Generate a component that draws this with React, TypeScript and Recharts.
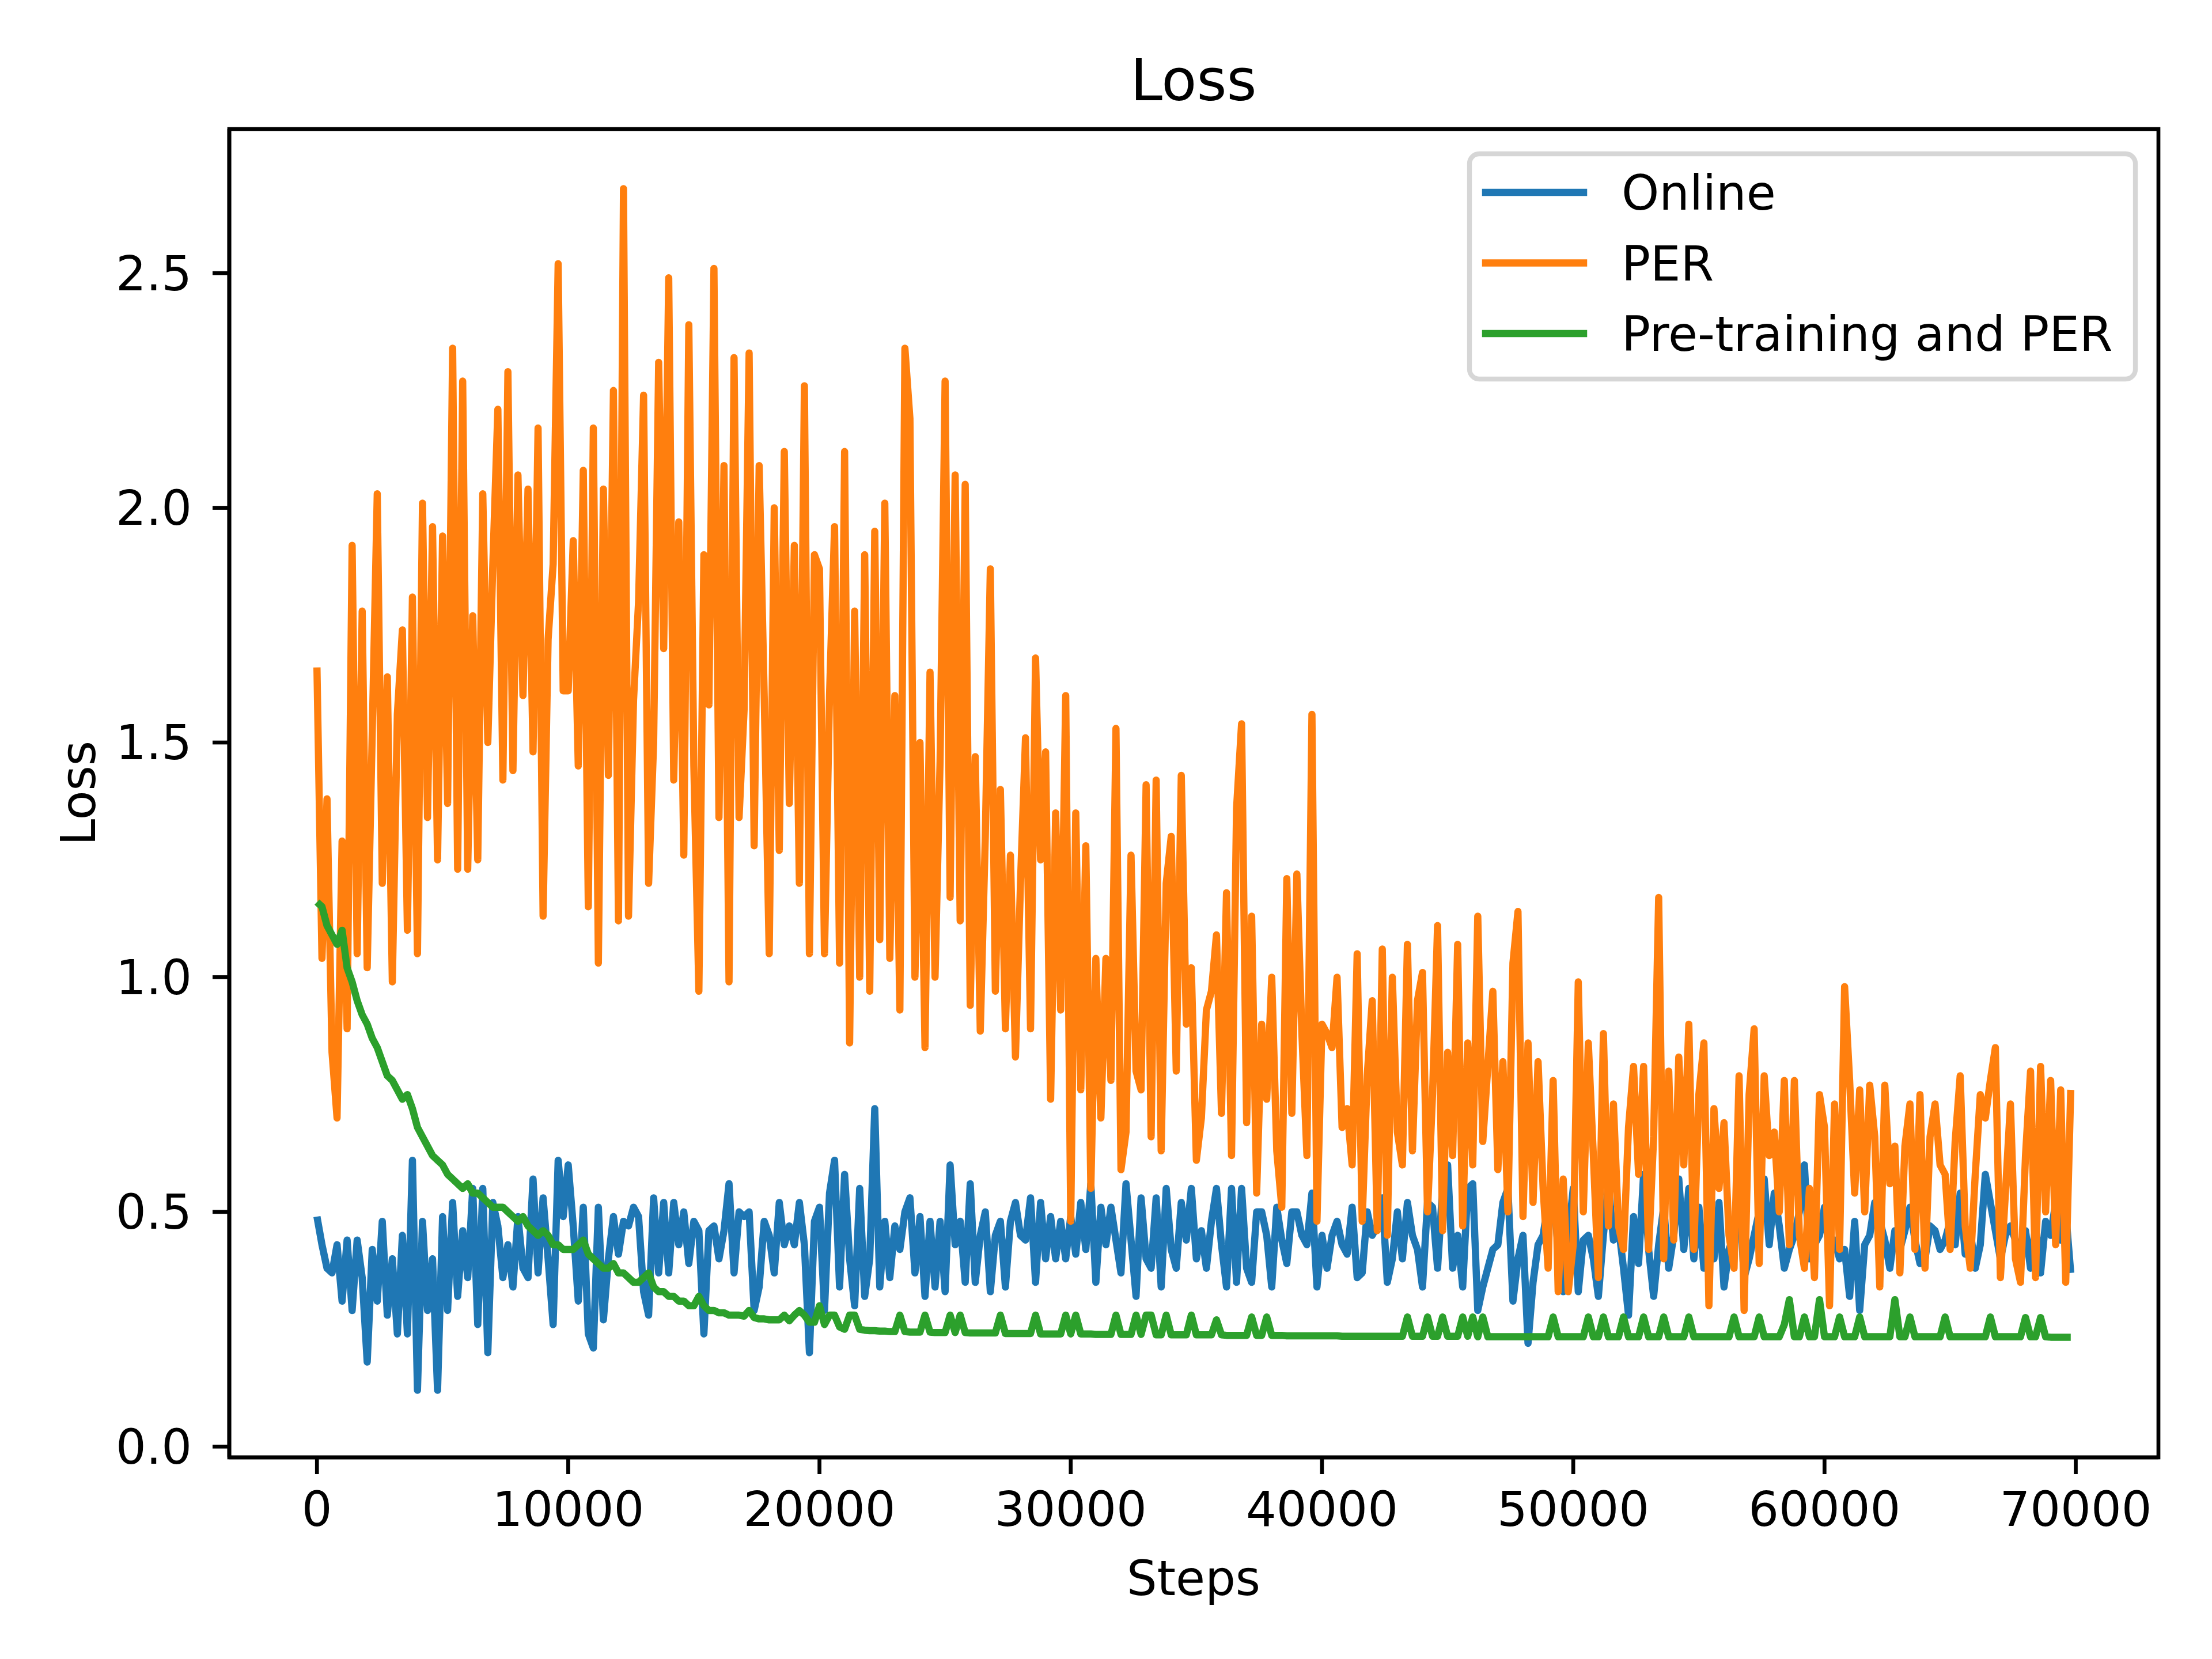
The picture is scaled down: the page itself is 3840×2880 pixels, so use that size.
import React from "react";
import { LineChart, Line, XAxis, YAxis } from "recharts";

// loss per logged step (one value every 200 steps, 0 .. 69800)
const ONLINE = [
    0.49, 0.43, 0.38, 0.37, 0.43, 0.31, 0.44, 0.29, 0.44, 0.36,
    0.18, 0.42, 0.31, 0.48, 0.28, 0.40, 0.24, 0.45, 0.24, 0.61,
    0.12, 0.48, 0.29, 0.40, 0.12, 0.49, 0.29, 0.52, 0.32, 0.46,
    0.36, 0.55, 0.26, 0.55, 0.20, 0.52, 0.47, 0.36, 0.43, 0.34,
    0.49, 0.38, 0.36, 0.57, 0.37, 0.53, 0.40, 0.26, 0.61, 0.49,
    0.60, 0.47, 0.31, 0.51, 0.24, 0.21, 0.51, 0.27, 0.40, 0.49,
    0.41, 0.48, 0.47, 0.51, 0.49, 0.33, 0.28, 0.53, 0.37, 0.52,
    0.37, 0.52, 0.43, 0.50, 0.39, 0.48, 0.46, 0.24, 0.46, 0.47,
    0.40, 0.46, 0.56, 0.37, 0.50, 0.49, 0.50, 0.29, 0.34, 0.48,
    0.45, 0.37, 0.52, 0.43, 0.47, 0.43, 0.52, 0.43, 0.20, 0.48,
    0.51, 0.29, 0.54, 0.61, 0.34, 0.58, 0.40, 0.30, 0.55, 0.32,
    0.40, 0.72, 0.34, 0.48, 0.36, 0.47, 0.42, 0.50, 0.53, 0.37,
    0.49, 0.32, 0.48, 0.34, 0.48, 0.33, 0.60, 0.43, 0.48, 0.35,
    0.56, 0.35, 0.45, 0.50, 0.33, 0.45, 0.48, 0.34, 0.48, 0.52,
    0.45, 0.44, 0.53, 0.35, 0.52, 0.40, 0.49, 0.40, 0.48, 0.40,
    0.49, 0.41, 0.52, 0.42, 0.56, 0.35, 0.51, 0.43, 0.51, 0.44,
    0.37, 0.56, 0.44, 0.32, 0.53, 0.40, 0.38, 0.53, 0.34, 0.55,
    0.42, 0.38, 0.52, 0.44, 0.55, 0.40, 0.46, 0.38, 0.48, 0.55,
    0.43, 0.34, 0.55, 0.35, 0.55, 0.38, 0.35, 0.50, 0.50, 0.45,
    0.34, 0.51, 0.44, 0.39, 0.50, 0.50, 0.45, 0.43, 0.54, 0.34,
    0.45, 0.38, 0.45, 0.48, 0.43, 0.41, 0.51, 0.36, 0.37, 0.50,
    0.45, 0.47, 0.53, 0.35, 0.40, 0.50, 0.40, 0.52, 0.45, 0.42,
    0.34, 0.52, 0.51, 0.38, 0.55, 0.60, 0.38, 0.45, 0.34, 0.55,
    0.56, 0.29, 0.34, 0.38, 0.42, 0.43, 0.52, 0.55, 0.31, 0.40,
    0.45, 0.22, 0.35, 0.43, 0.45, 0.52, 0.55, 0.42, 0.33, 0.45,
    0.55, 0.33, 0.44, 0.45, 0.40, 0.32, 0.45, 0.56, 0.44, 0.47,
    0.38, 0.28, 0.49, 0.39, 0.58, 0.42, 0.32, 0.43, 0.51, 0.38,
    0.45, 0.57, 0.42, 0.55, 0.40, 0.51, 0.38, 0.42, 0.40, 0.52,
    0.34, 0.42, 0.45, 0.55, 0.36, 0.40, 0.45, 0.50, 0.57, 0.43,
    0.54, 0.47, 0.38, 0.42, 0.45, 0.50, 0.60, 0.40, 0.43, 0.45,
    0.51, 0.41, 0.44, 0.40, 0.42, 0.32, 0.48, 0.29, 0.43, 0.45,
    0.52, 0.48, 0.44, 0.38, 0.46, 0.42, 0.46, 0.51, 0.44, 0.39,
    0.40, 0.47, 0.46, 0.42, 0.44, 0.48, 0.43, 0.54, 0.41, 0.46,
    0.38, 0.43, 0.58, 0.52, 0.46, 0.40, 0.45, 0.47, 0.44, 0.42,
    0.46, 0.38, 0.47, 0.37, 0.48, 0.45, 0.52, 0.44, 0.50, 0.37,
];

const PER = [
    1.66, 1.04, 1.38, 0.84, 0.70, 1.29, 0.89, 1.92, 1.05, 1.78,
    1.02, 1.52, 2.03, 1.20, 1.64, 0.99, 1.56, 1.74, 1.10, 1.81,
    1.05, 2.01, 1.34, 1.96, 1.25, 1.94, 1.37, 2.34, 1.23, 2.27,
    1.23, 1.77, 1.25, 2.03, 1.50, 1.88, 2.21, 1.42, 2.29, 1.44,
    2.07, 1.60, 2.04, 1.48, 2.17, 1.13, 1.72, 1.88, 2.52, 1.61,
    1.61, 1.93, 1.45, 2.08, 1.15, 2.17, 1.03, 2.04, 1.43, 2.25,
    1.12, 2.68, 1.13, 1.59, 1.80, 2.24, 1.20, 1.50, 2.31, 1.70,
    2.49, 1.42, 1.97, 1.26, 2.39, 1.45, 0.97, 1.90, 1.58, 2.51,
    1.34, 2.09, 0.99, 2.32, 1.34, 1.57, 2.33, 1.28, 2.09, 1.60,
    1.05, 2.00, 1.27, 2.12, 1.37, 1.92, 1.20, 2.26, 1.05, 1.90,
    1.87, 1.05, 1.60, 1.96, 1.03, 2.12, 0.86, 1.78, 1.00, 1.90,
    0.97, 1.95, 1.08, 2.01, 1.04, 1.60, 0.93, 2.34, 2.19, 1.00,
    1.50, 0.85, 1.65, 1.00, 1.46, 2.27, 1.17, 2.07, 1.12, 2.05,
    0.94, 1.47, 0.885, 1.30, 1.87, 0.97, 1.40, 0.89, 1.26, 0.83,
    1.20, 1.51, 0.89, 1.68, 1.25, 1.48, 0.74, 1.35, 0.93, 1.60,
    0.48, 1.35, 0.76, 1.28, 0.55, 1.04, 0.70, 1.04, 0.78, 1.53,
    0.59, 0.67, 1.26, 0.80, 0.76, 1.41, 0.66, 1.42, 0.63, 1.20,
    1.30, 0.80, 1.43, 0.90, 1.02, 0.61, 0.70, 0.93, 0.97, 1.09,
    0.71, 1.18, 0.62, 1.36, 1.54, 0.69, 1.13, 0.54, 0.90, 0.74,
    1.00, 0.63, 0.51, 1.21, 0.71, 1.22, 0.88, 0.62, 1.56, 0.48,
    0.90, 0.88, 0.85, 1.00, 0.68, 0.72, 0.60, 1.05, 0.48, 0.79,
    0.95, 0.46, 1.06, 0.45, 1.00, 0.67, 0.60, 1.07, 0.63, 0.95,
    1.01, 0.50, 0.75, 1.11, 0.46, 0.84, 0.62, 1.07, 0.47, 0.86,
    0.60, 1.13, 0.65, 0.81, 0.97, 0.59, 0.82, 0.50, 1.03, 1.14,
    0.49, 0.86, 0.52, 0.82, 0.55, 0.38, 0.78, 0.33, 0.57, 0.33,
    0.43, 0.99, 0.50, 0.86, 0.62, 0.36, 0.88, 0.47, 0.73, 0.47,
    0.42, 0.68, 0.81, 0.58, 0.81, 0.42, 0.66, 1.17, 0.40, 0.80,
    0.44, 0.83, 0.60, 0.90, 0.42, 0.75, 0.86, 0.30, 0.72, 0.55,
    0.69, 0.45, 0.38, 0.79, 0.29, 0.75, 0.89, 0.39, 0.79, 0.62,
    0.67, 0.50, 0.78, 0.43, 0.78, 0.45, 0.38, 0.55, 0.36, 0.75,
    0.68, 0.30, 0.73, 0.42, 0.98, 0.78, 0.54, 0.76, 0.50, 0.77,
    0.66, 0.34, 0.77, 0.56, 0.64, 0.37, 0.64, 0.73, 0.42, 0.75,
    0.38, 0.66, 0.73, 0.60, 0.58, 0.42, 0.65, 0.79, 0.47, 0.38,
    0.58, 0.75, 0.70, 0.78, 0.85, 0.36, 0.54, 0.73, 0.40, 0.35,
    0.62, 0.80, 0.36, 0.81, 0.50, 0.78, 0.43, 0.76, 0.35, 0.76,
];

const PRETRAIN_PER = [
    1.16, 1.15, 1.11, 1.09, 1.07, 1.10, 1.02, 0.99, 0.95, 0.92,
    0.90, 0.87, 0.85, 0.82, 0.79, 0.78, 0.76, 0.74, 0.75, 0.72,
    0.68, 0.66, 0.64, 0.62, 0.61, 0.60, 0.58, 0.57, 0.56, 0.55,
    0.56, 0.54, 0.54, 0.53, 0.52, 0.51, 0.51, 0.51, 0.50, 0.49,
    0.48, 0.49, 0.47, 0.46, 0.45, 0.46, 0.45, 0.43, 0.43, 0.42,
    0.42, 0.42, 0.43, 0.44, 0.41, 0.40, 0.39, 0.38, 0.38, 0.39,
    0.37, 0.37, 0.36, 0.35, 0.35, 0.36, 0.37, 0.34, 0.33, 0.33,
    0.32, 0.32, 0.31, 0.31, 0.30, 0.30, 0.32, 0.30, 0.29, 0.29,
    0.285, 0.285, 0.28, 0.28, 0.28, 0.278, 0.29, 0.275, 0.272, 0.272,
    0.27, 0.27, 0.27, 0.28, 0.268, 0.28, 0.29, 0.28, 0.265, 0.265,
    0.30, 0.26, 0.28, 0.28, 0.255, 0.25, 0.28, 0.28, 0.25, 0.248,
    0.247, 0.247, 0.246, 0.246, 0.245, 0.245, 0.28, 0.245, 0.244, 0.244,
    0.244, 0.28, 0.244, 0.243, 0.243, 0.243, 0.28, 0.243, 0.28, 0.243,
    0.242, 0.242, 0.242, 0.242, 0.242, 0.242, 0.28, 0.241, 0.241, 0.241,
    0.241, 0.241, 0.241, 0.28, 0.24, 0.24, 0.24, 0.24, 0.24, 0.28,
    0.24, 0.28, 0.24, 0.24, 0.24, 0.239, 0.239, 0.239, 0.239, 0.28,
    0.239, 0.239, 0.239, 0.28, 0.239, 0.28, 0.28, 0.238, 0.238, 0.28,
    0.238, 0.238, 0.238, 0.238, 0.28, 0.238, 0.238, 0.238, 0.238, 0.27,
    0.238, 0.237, 0.237, 0.237, 0.237, 0.237, 0.276, 0.237, 0.237, 0.276,
    0.237, 0.237, 0.237, 0.236, 0.236, 0.236, 0.236, 0.236, 0.236, 0.236,
    0.236, 0.236, 0.236, 0.236, 0.235, 0.235, 0.235, 0.235, 0.235, 0.235,
    0.235, 0.235, 0.235, 0.235, 0.235, 0.235, 0.235, 0.276, 0.235, 0.235,
    0.235, 0.276, 0.235, 0.235, 0.276, 0.235, 0.235, 0.235, 0.276, 0.235,
    0.276, 0.234, 0.276, 0.234, 0.234, 0.234, 0.234, 0.234, 0.234, 0.234,
    0.234, 0.234, 0.234, 0.234, 0.234, 0.234, 0.276, 0.234, 0.234, 0.234,
    0.234, 0.234, 0.234, 0.276, 0.234, 0.234, 0.276, 0.234, 0.234, 0.234,
    0.276, 0.234, 0.234, 0.234, 0.276, 0.234, 0.234, 0.234, 0.276, 0.234,
    0.234, 0.234, 0.234, 0.276, 0.234, 0.234, 0.234, 0.234, 0.234, 0.234,
    0.234, 0.234, 0.276, 0.234, 0.234, 0.234, 0.234, 0.276, 0.234, 0.234,
    0.234, 0.234, 0.26, 0.313, 0.234, 0.234, 0.276, 0.234, 0.234, 0.313,
    0.234, 0.234, 0.234, 0.276, 0.234, 0.234, 0.234, 0.276, 0.234, 0.234,
    0.234, 0.234, 0.234, 0.234, 0.313, 0.234, 0.234, 0.276, 0.234, 0.234,
    0.234, 0.234, 0.234, 0.234, 0.276, 0.234, 0.234, 0.234, 0.234, 0.234,
    0.234, 0.234, 0.234, 0.276, 0.234, 0.234, 0.234, 0.234, 0.234, 0.234,
    0.275, 0.234, 0.234, 0.275, 0.234, 0.233, 0.233, 0.233, 0.233, 0.233,
];

const STEP_SIZE = 200;
const X_TICKS = [0, 10000, 20000, 30000, 40000, 50000, 60000, 70000];
const Y_TICKS = [0, 0.5, 1.0, 1.5, 2.0, 2.5];

const SERIES = [
    { key: "online", name: "Online", color: "#1f77b4" },
    { key: "per", name: "PER", color: "#ff7f0e" },
    { key: "pretrain", name: "Pre-training and PER", color: "#2ca02c" },
];

const rows = ONLINE.map((v, i) => ({
    step: i * STEP_SIZE,
    online: v,
    per: PER[i],
    pretrain: PRETRAIN_PER[i],
}));

const FONT = "'DejaVu Sans', sans-serif";
const X_DOMAIN = [-3490, 73290];
const Y_DOMAIN = [-0.023, 2.807];

// plot box in page pixels
const PLOT = { left: 398, top: 224, right: 3747, bottom: 2530 };

const axisStroke = { stroke: "#000", strokeWidth: 6.7 };
const tickStyle = { fontSize: 83, fill: "#000", fontFamily: FONT };

const App = () => {
    return (
        <div
            style={{
                position: "absolute",
                left: 0,
                top: 0,
                width: 3840,
                height: 2880,
                background: "#fff",
                fontFamily: FONT,
            }}
        >
            <LineChart
                width={3840}
                height={2880}
                data={rows}
                margin={{
                    top: PLOT.top,
                    right: 3840 - PLOT.right,
                    bottom: 2880 - PLOT.bottom - 200,
                    left: PLOT.left - 300,
                }}
            >
                <XAxis
                    dataKey="step"
                    type="number"
                    domain={X_DOMAIN}
                    ticks={X_TICKS}
                    allowDataOverflow
                    height={200}
                    tickSize={29}
                    tickMargin={31}
                    tick={tickStyle}
                    axisLine={axisStroke}
                    tickLine={axisStroke}
                    tickFormatter={(v) => String(v)}
                />
                <YAxis
                    type="number"
                    domain={Y_DOMAIN}
                    ticks={Y_TICKS}
                    allowDataOverflow
                    width={300}
                    tickSize={29}
                    tickMargin={36}
                    tick={tickStyle}
                    axisLine={axisStroke}
                    tickLine={axisStroke}
                    tickFormatter={(v) => Number(v).toFixed(1)}
                />
                {SERIES.map((s) => (
                    <Line
                        key={s.key}
                        type="linear"
                        dataKey={s.key}
                        name={s.name}
                        stroke={s.color}
                        strokeWidth={12.5}
                        strokeLinejoin="round"
                        dot={false}
                        activeDot={false}
                        isAnimationActive={false}
                    />
                ))}
            </LineChart>

            {/* frame, title, axis labels and legend */}
            <svg
                width={3840}
                height={2880}
                style={{ position: "absolute", left: 0, top: 0, pointerEvents: "none" }}
                fontFamily={FONT}
            >
                <rect
                    x={PLOT.left}
                    y={PLOT.top}
                    width={PLOT.right - PLOT.left}
                    height={PLOT.bottom - PLOT.top}
                    fill="none"
                    stroke="#000"
                    strokeWidth={6.7}
                    strokeLinejoin="miter"
                />
                <text x={2072} y={174} fontSize={100} textAnchor="middle" fill="#000">
                    Loss
                </text>
                <text x={2072} y={2769} fontSize={83} textAnchor="middle" fill="#000">
                    Steps
                </text>
                <text
                    transform="translate(165, 1377) rotate(-90)"
                    fontSize={83}
                    textAnchor="middle"
                    fill="#000"
                >
                    Loss
                </text>
                <rect
                    x={2551}
                    y={267}
                    width={1156}
                    height={391}
                    rx={17}
                    fill="#fff"
                    fillOpacity={0.8}
                    stroke="#cccccc"
                    strokeOpacity={0.8}
                    strokeWidth={8.3}
                />
                {SERIES.map((s, i) => {
                    const y = 334 + i * 122.5;
                    return (
                        <g key={s.key}>
                            <line
                                x1={2579}
                                x2={2749}
                                y1={y}
                                y2={y}
                                stroke={s.color}
                                strokeWidth={12.5}
                                strokeLinecap="square"
                            />
                            <text x={2815} y={y + 30} fontSize={83} fill="#000">
                                {s.name}
                            </text>
                        </g>
                    );
                })}
            </svg>
        </div>
    );
};

export default App;
